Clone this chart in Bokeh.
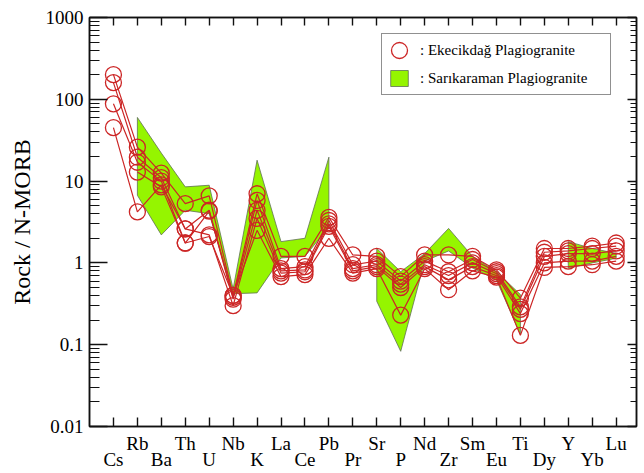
import math
from bokeh.plotting import figure
from bokeh.models import (Range1d, FixedTicker, LinearAxis, LogAxis,
                          NumeralTickFormatter, Legend, LegendItem)
from bokeh.embed import file_html
from bokeh.resources import INLINE

nan = float("nan")

elements = ["Cs", "Rb", "Ba", "Th", "U", "Nb", "K", "La", "Ce", "Pb", "Pr",
            "Sr", "P", "Nd", "Zr", "Sm", "Eu", "Ti", "Dy", "Y", "Yb", "Lu"]

# Ekecikdag plagiogranite samples (Rock / N-MORB)
ek_s1 = [200, 26, 12.5, 5.3, 6.6, 0.40, 7.0, 1.20, 1.20, 3.6, 1.25,
         1.20, 0.68, 1.25, 1.25, 1.20, 0.82, 0.37, 1.50, 1.50, 1.60, 1.75]
ek_s2 = [160, 19.6, 11.0, 2.6, 4.4, 0.38, 5.8, 0.85, 0.90, 3.3, 0.95,
         1.05, 0.60, 1.05, 0.78, 1.10, 0.78, 0.29, 1.35, 1.40, 1.50, 1.60]
ek_s3 = [88, 17.0, 10.0, 1.75, 4.3, 0.36, 4.4, 0.80, 0.82, 3.0, 0.85,
         0.95, 0.55, 0.95, 0.70, 1.00, 0.74, 0.27, 1.20, 1.30, 1.30, 1.40]
ek_s4 = [45, 4.2, 9.0, 2.6, 2.2, 0.30, 3.5, 0.75, 0.78, 2.8, 0.80,
         0.90, 0.50, 0.90, 0.62, 0.90, 0.70, 0.24, 1.00, 1.05, 1.05, 1.20]
ek_s5 = [nan, 12.9, 8.5, 1.75, 2.1, 0.40, 2.5, 0.68, 0.72, 2.0, 0.75,
         0.85, 0.23, 0.85, 0.47, 0.80, 0.67, 0.13, 0.88, 0.90, 0.95, 1.05]
ek_samples = [ek_s1, ek_s2, ek_s3, ek_s4, ek_s5]

# Sarikaraman plagiogranite field (upper / lower envelope)
sar_upper = [nan, 60, 22, 8.5, 8.9, 0.48, 18, 1.82, 2.0, 19.6, nan,
             1.5, 0.78, 1.3, 2.64, 1.2, 0.78, 0.41, nan, 1.82, 1.5, 1.31]
sar_lower = [nan, 6.7, 2.2, 4.4, 4.0, 0.42, 0.43, 1.15, 1.2, 2.77, nan,
             0.34, 0.083, 1.05, 1.4, 0.87, 0.62, 0.133, nan, 0.86, 1.0, 1.14]

y_major = [0.01, 0.1, 1, 10, 100, 1000]
y_minor = [k * 10.0 ** d for d in range(-2, 3) for k in range(2, 10)]

RED = "#CC2626"
LIME = "#95F500"
SERIF = "Liberation Serif"
AX = "#111111"

idx = list(range(len(elements)))

p = figure(width=644, height=473,
           x_range=Range1d(-1.0, 21.85), y_range=Range1d(0.01, 1000),
           y_axis_type="log", output_backend="svg", toolbar_location=None,
           min_border_left=89, min_border_right=8, min_border_top=17,
           min_border_bottom=45)
p.grid.visible = False
p.outline_line_color = AX
p.outline_line_width = 1.5
p.background_fill_color = "white"
p.border_fill_color = "white"

# field polygons (contiguous segments of the envelope)
xs, ys = [], []
seg = []
for i in idx:
    if math.isnan(sar_upper[i]):
        if seg:
            xs.append(seg + seg[::-1])
            ys.append([sar_upper[j] for j in seg] + [sar_lower[j] for j in seg[::-1]])
            seg = []
    else:
        seg.append(i)
if seg:
    xs.append(seg + seg[::-1])
    ys.append([sar_upper[j] for j in seg] + [sar_lower[j] for j in seg[::-1]])

patch_r = p.patches(xs=xs, ys=ys, fill_color=LIME, line_color="#5f6f55",
                    line_width=0.8)

ell_renderers = []
for s in ek_samples:
    p.line(idx, s, line_color=RED, line_width=1.2)
for s in ek_samples:
    r = p.ellipse(x=idx, y=s, width=16, height=16, width_units="screen",
                  height_units="screen", fill_color=None, line_color=RED,
                  line_width=1.3)
    ell_renderers.append(r)

# bottom axis: inward ticks at every element, labels in two staggered rows
xa = p.xaxis[0]
xa.ticker = FixedTicker(ticks=idx, minor_ticks=[])
xa.major_label_overrides = {i: (elements[i] if i % 2 == 1 else "\n" + elements[i])
                            for i in idx}
xa.major_label_text_line_height = 0.8
xa.major_label_standoff = 6
xa.major_label_text_font = SERIF
xa.major_label_text_font_size = "19px"
xa.major_label_text_color = "black"
xa.major_tick_in = 9
xa.major_tick_out = 0
xa.minor_tick_line_color = None
xa.axis_line_color = AX
xa.axis_line_width = 1.5
xa.major_tick_line_color = AX
xa.major_tick_line_width = 1.4

# top axis (ticks only)
ta = LinearAxis(ticker=FixedTicker(ticks=idx, minor_ticks=[]))
ta.major_label_text_alpha = 0
ta.major_label_text_font_size = "1px"
ta.major_label_standoff = 0
ta.major_tick_in = 8
ta.major_tick_out = 0
ta.minor_tick_line_color = None
ta.axis_line_color = AX
ta.axis_line_width = 1.5
ta.major_tick_line_color = AX
ta.major_tick_line_width = 1.4
p.add_layout(ta, "above")

# left axis
ya = p.yaxis[0]
ya.ticker = FixedTicker(ticks=y_major, minor_ticks=y_minor)
ya.formatter = NumeralTickFormatter(format="0.[00]")
ya.major_tick_in = 18
ya.major_tick_out = 0
ya.minor_tick_in = 10
ya.minor_tick_out = 0
ya.major_label_standoff = 6
ya.major_label_text_font = SERIF
ya.major_label_text_font_size = "19px"
ya.major_label_text_color = "black"
ya.axis_line_color = AX
ya.axis_line_width = 1.5
ya.major_tick_line_color = AX
ya.minor_tick_line_color = AX
ya.major_tick_line_width = 1.4
ya.minor_tick_line_width = 1.2
ya.axis_label = "Rock / N-MORB"
ya.axis_label_text_font = SERIF
ya.axis_label_text_font_size = "24px"
ya.axis_label_text_font_style = "normal"
ya.axis_label_text_color = "black"
ya.axis_label_standoff = 8

# right axis (ticks only)
ra = LogAxis(ticker=FixedTicker(ticks=y_major, minor_ticks=y_minor))
ra.major_label_text_alpha = 0
ra.major_label_text_font_size = "1px"
ra.major_label_standoff = 0
ra.major_tick_in = 9
ra.major_tick_out = 0
ra.minor_tick_in = 6
ra.minor_tick_out = 0
ra.axis_line_color = AX
ra.axis_line_width = 1.5
ra.major_tick_line_color = AX
ra.minor_tick_line_color = AX
ra.major_tick_line_width = 1.4
ra.minor_tick_line_width = 1.2
p.add_layout(ra, "right")

legend = Legend(items=[
    LegendItem(label=": Ekecikdağ Plagiogranite", renderers=[ell_renderers[0]]),
    LegendItem(label=": Sarıkaraman Plagiogranite", renderers=[patch_r]),
], location=(292, 331))
legend.glyph_width = 22
legend.glyph_height = 20
legend.label_height = 20
legend.label_standoff = 10
legend.label_width = 184
legend.spacing = 8
legend.padding = 6
legend.margin = 0
legend.label_text_font = SERIF
legend.label_text_font_size = "15px"
legend.label_text_color = "black"
legend.border_line_color = "#222222"
legend.border_line_width = 1
legend.background_fill_color = "white"
legend.background_fill_alpha = 1.0
p.add_layout(legend)

open("out.html", "w").write(file_html(p, INLINE))
